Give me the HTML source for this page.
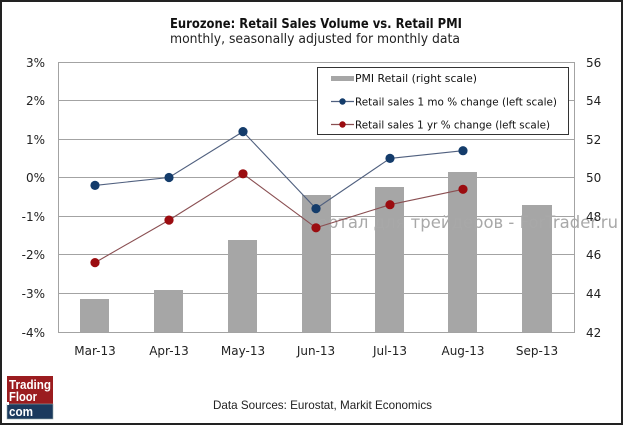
<!DOCTYPE html>
<html>
<head>
<meta charset="utf-8">
<style>
  html,body{margin:0;padding:0;background:#fff;}
  svg{display:block;}
  .t{font-family:"DejaVu Sans","Liberation Sans",sans-serif;}
  .a{font-family:"Liberation Sans","DejaVu Sans",sans-serif;}
</style>
</head>
<body>
<svg width="624" height="426" viewBox="0 0 624 426" xmlns="http://www.w3.org/2000/svg">
  <rect x="0" y="0" width="624" height="426" fill="#fff"/>
  <!-- outer frame -->
  <rect x="1" y="1" width="621" height="423" fill="none" stroke="#222" stroke-width="2"/>

  <!-- titles -->
  <text class="t" x="316" y="28" font-size="13" font-weight="bold" fill="#111" text-anchor="middle" textLength="292" lengthAdjust="spacingAndGlyphs">Eurozone: Retail Sales Volume vs. Retail PMI</text>
  <text class="t" x="315" y="43" font-size="13" fill="#222" text-anchor="middle" textLength="290" lengthAdjust="spacingAndGlyphs">monthly, seasonally adjusted for monthly data</text>

  <!-- gridlines -->
  <g stroke="#a3a3a3" stroke-width="1">
    <line x1="58" y1="62.5" x2="574" y2="62.5"/>
    <line x1="58" y1="100.5" x2="574" y2="100.5"/>
    <line x1="58" y1="139.5" x2="574" y2="139.5"/>
    <line x1="58" y1="177.5" x2="574" y2="177.5"/>
    <line x1="58" y1="216.5" x2="574" y2="216.5"/>
    <line x1="58" y1="254.5" x2="574" y2="254.5"/>
    <line x1="58" y1="293.5" x2="574" y2="293.5"/>
    <line x1="58" y1="332.5" x2="574" y2="332.5"/>
    <line x1="58.5" y1="62" x2="58.5" y2="333"/>
    <line x1="574.5" y1="62" x2="574.5" y2="333"/>
  </g>

  <!-- bars -->
  <g fill="#a6a6a6">
    <rect x="80" y="299" width="29" height="33"/>
    <rect x="154" y="290" width="29" height="42"/>
    <rect x="228" y="240" width="29" height="92"/>
    <rect x="302" y="195" width="29" height="137"/>
    <rect x="375" y="187" width="29" height="145"/>
    <rect x="448" y="172" width="29" height="160"/>
    <rect x="522" y="205" width="30" height="127"/>
  </g>

  <!-- watermark -->
  <text class="t" x="307" y="228" font-size="17" fill="#a8a8a8" textLength="311" lengthAdjust="spacingAndGlyphs">портал для трейдеров - ForTrader.ru</text>

  <!-- left axis labels -->
  <g class="t" font-size="12" fill="#222" text-anchor="end">
    <text x="45" y="67">3%</text>
    <text x="45" y="105">2%</text>
    <text x="45" y="144">1%</text>
    <text x="45" y="182">0%</text>
    <text x="45" y="221">-1%</text>
    <text x="45" y="259">-2%</text>
    <text x="45" y="298">-3%</text>
    <text x="45" y="337">-4%</text>
  </g>
  <!-- right axis labels -->
  <g class="t" font-size="12" fill="#222">
    <text x="586" y="67">56</text>
    <text x="586" y="105">54</text>
    <text x="586" y="144">52</text>
    <text x="586" y="182">50</text>
    <text x="586" y="221">48</text>
    <text x="586" y="259">46</text>
    <text x="586" y="298">44</text>
    <text x="586" y="337">42</text>
  </g>
  <!-- x labels -->
  <g class="t" font-size="12" fill="#222" text-anchor="middle">
    <text x="95" y="355">Mar-13</text>
    <text x="169" y="355">Apr-13</text>
    <text x="243" y="355">May-13</text>
    <text x="316" y="355">Jun-13</text>
    <text x="390" y="355">Jul-13</text>
    <text x="463" y="355">Aug-13</text>
    <text x="537" y="355">Sep-13</text>
  </g>

  <!-- series lines -->
  <polyline points="95,262.6 169,220.1 243,173.8 316,227.8 390,204.7 463,189.3" fill="none" stroke="#8a4f52" stroke-width="1.1"/>
  <polyline points="95,185.4 169,177.5 243,131.6 316,208.6 390,158.4 463,150.7" fill="none" stroke="#50607f" stroke-width="1.1"/>
  <g fill="#9b0c10">
    <circle cx="95" cy="262.6" r="4.6"/>
    <circle cx="169" cy="220.1" r="4.6"/>
    <circle cx="243" cy="173.8" r="4.6"/>
    <circle cx="316" cy="227.8" r="4.6"/>
    <circle cx="390" cy="204.7" r="4.6"/>
    <circle cx="463" cy="189.3" r="4.6"/>
  </g>
  <g fill="#143c6b">
    <circle cx="95" cy="185.4" r="4.6"/>
    <circle cx="169" cy="177.5" r="4.6"/>
    <circle cx="243" cy="131.6" r="4.6"/>
    <circle cx="316" cy="208.6" r="4.6"/>
    <circle cx="390" cy="158.4" r="4.6"/>
    <circle cx="463" cy="150.7" r="4.6"/>
  </g>

  <!-- legend -->
  <rect x="317.5" y="67.5" width="251" height="67" fill="#fff" stroke="#333" stroke-width="1"/>
  <rect x="331" y="76" width="23" height="5" fill="#a6a6a6"/>
  <line x1="331" y1="101.5" x2="354" y2="101.5" stroke="#50607f" stroke-width="1.2"/>
  <circle cx="342.5" cy="101.5" r="3.2" fill="#143c6b"/>
  <line x1="331" y1="124.5" x2="354" y2="124.5" stroke="#8a4f52" stroke-width="1.2"/>
  <circle cx="342.5" cy="124.5" r="3.2" fill="#9b0c10"/>
  <g class="t" font-size="11" fill="#111">
    <text x="355" y="82" textLength="122" lengthAdjust="spacingAndGlyphs">PMI Retail (right scale)</text>
    <text x="355" y="105.5" textLength="202" lengthAdjust="spacingAndGlyphs">Retail sales 1 mo % change (left scale)</text>
    <text x="355" y="128.5" textLength="195" lengthAdjust="spacingAndGlyphs">Retail sales 1 yr % change (left scale)</text>
  </g>

  <!-- logo -->
  <rect x="7" y="376" width="46" height="28" fill="#9b1c1f"/>
  <rect x="7" y="404" width="46" height="15" fill="#1b3a5e" stroke="#9aa" stroke-width="0.6"/>
  <rect x="7" y="402" width="2" height="3" fill="#fff"/>
  <g class="a" font-size="13" fill="#fff" font-weight="bold">
    <text x="9" y="389" textLength="42" lengthAdjust="spacingAndGlyphs">Trading</text>
    <text x="9" y="401" textLength="28" lengthAdjust="spacingAndGlyphs">Floor</text>
    <text x="9" y="416" textLength="24" lengthAdjust="spacingAndGlyphs">com</text>
  </g>

  <!-- source -->
  <text class="a" x="213" y="409" font-size="12" fill="#222" textLength="219" lengthAdjust="spacingAndGlyphs">Data Sources: Eurostat, Markit Economics</text>
</svg>
</body>
</html>
